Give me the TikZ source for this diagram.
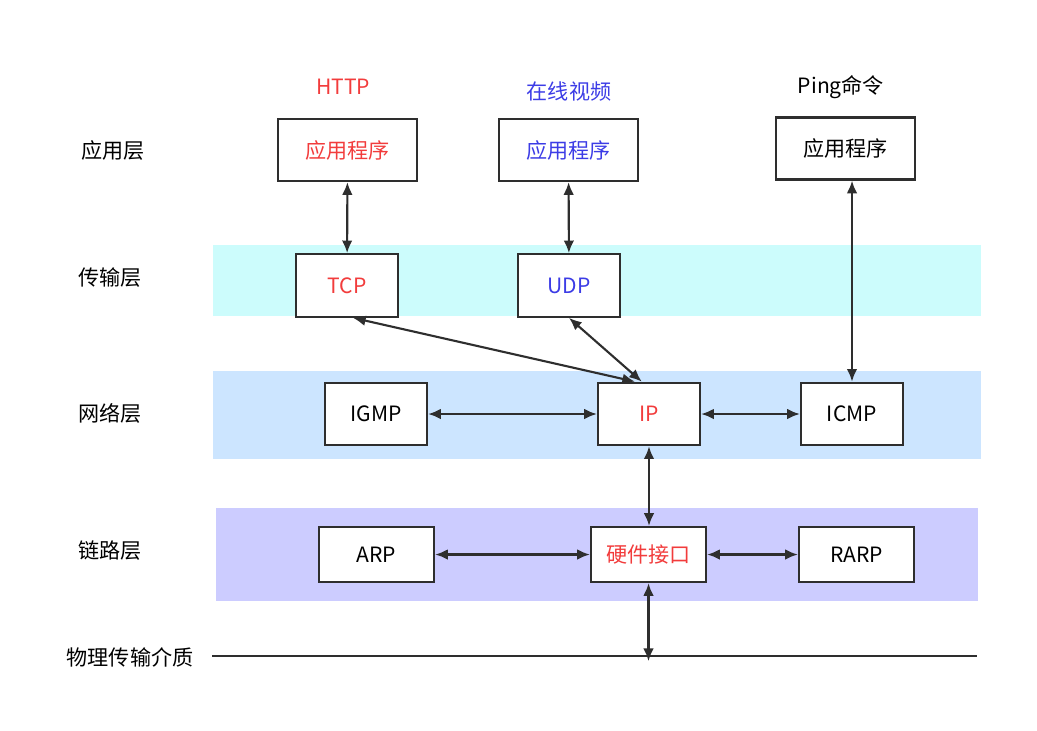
\documentclass[tikz,border=0pt]{standalone}
\usepackage{fontspec}
\setmainfont{Noto Sans CJK SC}
\usetikzlibrary{arrows.meta}
\definecolor{tcpred}{HTML}{F23C3C}
\definecolor{udpblue}{HTML}{3C3CE6}
\definecolor{linegray}{HTML}{2E2E2E}
\definecolor{transband}{HTML}{CCFCFC}
\definecolor{netband}{HTML}{CCE5FF}
\definecolor{linkband}{HTML}{CCCCFF}

\begin{document}
\begin{tikzpicture}[x=0.025cm, y=-0.025cm,
  font=\fontsize{15}{18}\selectfont,
  box/.style={draw=linegray, line width=1.6pt, fill=white, inner sep=0pt},
  appbox/.style={box, minimum width=3.475cm, minimum height=1.55cm},
  protobox/.style={box, minimum width=2.55cm, minimum height=1.56cm},
  linkbox/.style={box, minimum width=2.875cm, minimum height=1.375cm},
  link/.style={draw=linegray, line width=1.5pt, {Latex[length=9pt,width=7.5pt]}-{Latex[length=9pt,width=7.5pt]}}]
\useasboundingbox (0,0) rectangle (1037,730);
\fill[transband] (213,245) rectangle (981,316);
\fill[netband] (213,371) rectangle (981,459);
\fill[linkband] (216,508) rectangle (978,601);

\node (lapp) at (113,150) {应用层};
\node (ltrans) at (110,278) {传输层};
\node (lnet) at (110,413) {网络层};
\node (llink) at (110,551) {链路层};
\node (lphy) at (130,657) {物理传输介质};

\node[text=tcpred] (http) at (343,87) {HTTP};
\node[text=udpblue] (video) at (569,91) {在线视频};
\node (ping) at (841,87) {Ping命令};

\node[appbox, text=tcpred] (app1) at (347.5,150) {应用程序};
\node[appbox, text=udpblue] (app2) at (568.5,150) {应用程序};
\node[appbox] (app3) at (845.5,148.5) {应用程序};

\node[protobox, text=tcpred] (tcp) at (347,285.5) {TCP};
\node[protobox, text=udpblue] (udp) at (569,285.5) {UDP};

\node[protobox] (igmp) at (376,414) {IGMP};
\node[protobox, text=tcpred] (ip) at (649,414) {IP};
\node[protobox] (icmp) at (852,414) {ICMP};

\node[linkbox] (arp) at (376.5,554.5) {ARP};
\node[linkbox, text=tcpred] (hw) at (648.5,554.5) {硬件接口};
\node[linkbox] (rarp) at (856.5,554.5) {RARP};

\coordinate (busl) at (212,656);
\coordinate (busr) at (977,656);
\draw[linegray, line width=1.4pt] (busl) -- (busr);

\draw[link] (app1) -- (tcp);
\draw[link] (app2) -- (udp);
\draw[link] (app3.south -| icmp.north) -- (icmp.north);
\draw[link] ([xshift=0.15cm]tcp.south) -- ([xshift=-0.35cm]ip.north);
\draw[link] (udp.south) -- ([xshift=-0.18cm]ip.north);
\draw[link] (igmp) -- (ip);
\draw[link] (ip) -- (icmp);
\draw[link] (ip) -- (ip |- hw.north);
\draw[link] (arp) -- (hw);
\draw[link] (hw) -- (rarp);
\draw[link] (hw.south) -- ++(0,78);
\end{tikzpicture}
\end{document}
